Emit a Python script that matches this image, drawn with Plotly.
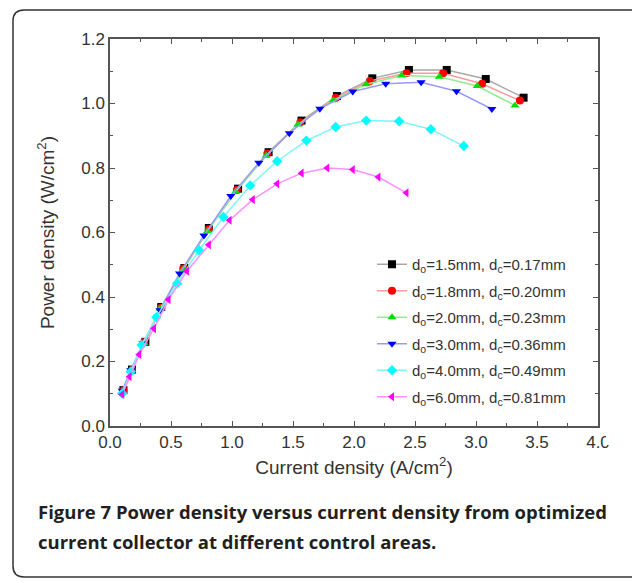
import plotly.graph_objects as go

# ---- data ----
x_15 = [0.11, 0.18, 0.29, 0.42, 0.61, 0.81, 1.05, 1.30, 1.57, 1.86, 2.15, 2.45, 2.76, 3.08, 3.39]
y_15 = [0.111, 0.175, 0.261, 0.369, 0.490, 0.614, 0.736, 0.849, 0.947, 1.023, 1.078, 1.104, 1.104, 1.076, 1.018]
x_18 = [0.11, 0.18, 0.28, 0.42, 0.60, 0.81, 1.04, 1.29, 1.56, 1.85, 2.13, 2.43, 2.73, 3.05, 3.36]
y_18 = [0.110, 0.174, 0.260, 0.367, 0.488, 0.610, 0.732, 0.845, 0.942, 1.018, 1.070, 1.094, 1.094, 1.061, 1.009]
x_20 = [0.10, 0.17, 0.28, 0.41, 0.60, 0.80, 1.03, 1.28, 1.54, 1.83, 2.10, 2.39, 2.70, 3.01, 3.32]
y_20 = [0.108, 0.172, 0.257, 0.364, 0.485, 0.605, 0.727, 0.838, 0.935, 1.010, 1.060, 1.087, 1.083, 1.054, 0.994]
x_30 = [0.10, 0.17, 0.27, 0.41, 0.57, 0.77, 0.99, 1.22, 1.47, 1.72, 1.99, 2.26, 2.55, 2.84, 3.13]
y_30 = [0.109, 0.173, 0.256, 0.359, 0.473, 0.591, 0.713, 0.816, 0.908, 0.984, 1.037, 1.061, 1.066, 1.038, 0.983]
x_40 = [0.10, 0.17, 0.26, 0.38, 0.55, 0.73, 0.93, 1.15, 1.37, 1.61, 1.85, 2.10, 2.37, 2.63, 2.90]
y_40 = [0.101, 0.168, 0.251, 0.337, 0.442, 0.545, 0.648, 0.746, 0.821, 0.885, 0.927, 0.947, 0.945, 0.920, 0.868]
x_60 = [0.10, 0.16, 0.24, 0.36, 0.48, 0.63, 0.81, 0.98, 1.17, 1.37, 1.57, 1.78, 1.99, 2.20, 2.43]
y_60 = [0.098, 0.153, 0.222, 0.302, 0.392, 0.480, 0.562, 0.638, 0.702, 0.751, 0.784, 0.800, 0.795, 0.772, 0.723]

names = [
    "d<sub>o</sub>=1.5mm, d<sub>c</sub>=0.17mm",
    "d<sub>o</sub>=1.8mm, d<sub>c</sub>=0.20mm",
    "d<sub>o</sub>=2.0mm, d<sub>c</sub>=0.23mm",
    "d<sub>o</sub>=3.0mm, d<sub>c</sub>=0.36mm",
    "d<sub>o</sub>=4.0mm, d<sub>c</sub>=0.49mm",
    "d<sub>o</sub>=6.0mm, d<sub>c</sub>=0.81mm",
]
xs = [x_15, x_18, x_20, x_30, x_40, x_60]
ys = [y_15, y_18, y_20, y_30, y_40, y_60]
marker_colors = ["#000000", "#ff0000", "#00e000", "#0000ff", "#00ffff", "#ff00ff"]
line_colors = ["#a8a8a8", "#ff9a9a", "#90ee90", "#9a9aff", "#7ff5f5", "#ff90ff"]
symbols = ["square", "circle", "triangle-up", "triangle-down", "diamond", "triangle-left"]

W, H = 632, 583
L, R, T, B = 110, 34, 39, 157
pw, ph = W - L - R, H - T - B

def px(x):
    return (x - L) / pw

def py(y):
    return (H - B - y) / ph

FONT = "Liberation Sans, Arial"
fig = go.Figure()
for i, (x, y, n, mc, lc, s) in enumerate(zip(xs, ys, names, marker_colors, line_colors, symbols)):
    fig.add_trace(go.Scatter(
        x=x, y=y, name=n, mode="lines+markers", legendgroup=f"g{i}",
        line=dict(color=lc, width=1.5),
        marker=dict(color=mc, symbol=s, size=8, line=dict(width=0)),
    ))

axis_common = dict(
    showgrid=False, zeroline=False, showline=True, linecolor="#555555", linewidth=1.5,
    mirror="ticks", ticks="inside", ticklen=5, tickwidth=1.2, tickcolor="#555555",
    tickfont=dict(family=FONT, size=17, color="#333333"),
)

fig.update_xaxes(
    range=[0, 4.0], tick0=0, dtick=0.5, tickformat=".1f",
    minor=dict(ticks="inside", ticklen=3, dtick=0.25, tickcolor="#555555", tickwidth=1),
    title=dict(text="Current density (A/cm<sup>2</sup>)", standoff=10,
               font=dict(family=FONT, size=19, color="#333333")),
    **axis_common,
)
fig.update_yaxes(
    range=[0, 1.2], tick0=0, dtick=0.2, tickformat=".1f",
    minor=dict(ticks="inside", ticklen=3, dtick=0.1, tickcolor="#555555", tickwidth=1),
    title=dict(text="Power density (W/cm<sup>2</sup>)", standoff=22,
               font=dict(family=FONT, size=19, color="#333333")),
    **axis_common,
)

# outer rounded frame (extends beyond the right edge)
x0, y0, x1, y1, r = 13, 10, 632, 577, 11
path = (f"M {px(x0)},{py(y0 + r)} "
        f"Q {px(x0)},{py(y0)} {px(x0 + r)},{py(y0)} "
        f"L {px(x1)},{py(y0)} "
        f"M {px(x0)},{py(y0 + r)} L {px(x0)},{py(y1 - r)} "
        f"Q {px(x0)},{py(y1)} {px(x0 + r)},{py(y1)} "
        f"L {px(x1)},{py(y1)}")
fig.add_shape(type="path", path=path, xref="paper", yref="paper",
              line=dict(color="#333333", width=1.5))

# cropped edge of the embedded plot image (cuts the last tick label)
fig.add_shape(type="rect", xref="paper", yref="paper", layer="above",
              x0=px(606), x1=px(640), y0=py(445), y1=py(428),
              fillcolor="white", line=dict(width=0))

fig.add_annotation(
    x=px(36), y=py(511), xref="paper", yref="paper", xanchor="left", yanchor="middle",
    align="left", showarrow=False,
    text="<b>Figure 7 Power density versus current density from optimized</b>",
    font=dict(family="Open Sans", size=18.5, color="#231f20"),
)
fig.add_annotation(
    x=px(36), y=py(541), xref="paper", yref="paper", xanchor="left", yanchor="middle",
    align="left", showarrow=False,
    text="<b>current collector at different control areas.</b>",
    font=dict(family="Open Sans", size=18.5, color="#231f20"),
)

fig.update_layout(
    width=W, height=H, margin=dict(l=L, r=R, t=T, b=B),
    paper_bgcolor="white", plot_bgcolor="white",
    showlegend=True,
    legend=dict(x=px(372), y=py(248), xanchor="left", yanchor="top",
                bgcolor="rgba(0,0,0,0)", font=dict(family=FONT, size=15, color="#333333"),
                itemwidth=30, tracegroupgap=4),
)

fig.write_html("out.html")
